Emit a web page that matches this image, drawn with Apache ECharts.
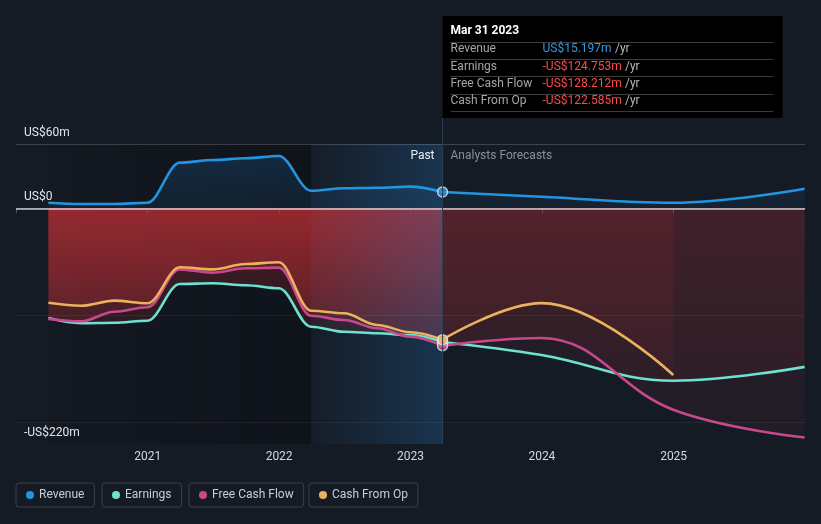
<!DOCTYPE html>
<html><head><meta charset="utf-8">
<script src="https://cdn.jsdelivr.net/npm/echarts@6/dist/echarts.min.js"></script>
<style>html,body{margin:0;padding:0;background:#151b25;}#main{width:821px;height:524px;}</style>
</head><body><div id="main"></div>
<script>
// ---------- data ----------
const seriesNames = ['Revenue', 'Earnings', 'Free Cash Flow', 'Cash From Op'];
const pastDates = ['2020-03-31','2020-06-30','2020-09-30','2020-12-31','2021-03-31','2021-06-30','2021-09-30','2021-12-31','2022-03-31','2022-06-30','2022-09-30','2022-12-31','2023-03-31'];
const revenuePast  = [5.2, 4.0, 4.0, 5.2, 42.6, 45.0, 46.7, 48.8, 16.4, 18.7, 19.2, 20.2, 15.197];
const earningsPast = [-102.5, -107.3, -106.8, -104.9, -70.7, -70.0, -71.9, -74.7, -110.5, -115.2, -116.7, -118.3, -124.753];
const fcfPast      = [-103.3, -105.5, -96.5, -92.4, -57.0, -60.1, -56.0, -55.4, -100.3, -104.3, -112.0, -119.8, -128.212];
const cfoPast      = [-88.1, -90.9, -86.2, -88.7, -55.1, -57.0, -52.0, -50.4, -95.6, -98.0, -108.9, -115.7, -122.585];
const forecastDates    = ['2023-03-31','2023-12-31','2024-12-31','2025-12-31'];
const cfoForecastDates = ['2023-03-31','2023-12-31','2024-12-31'];
const revenueForecast  = [15.197, 10.8, 5.2, 18.3];
const earningsForecast = [-124.753, -137.0, -161.0, -148.0];
const fcfForecast      = [-128.212, -121.0, -188.0, -214.0];
const cfoForecast      = [-122.585, -88.5, -155.6];
const yLabelValues = [60, 0, -220];
const gridLineValues = [60, -100, -200];
const xYearLabels = [2021, 2022, 2023, 2024, 2025];
const xMinDate = '2020-01-01', xMaxDate = '2026-01-01';
const darkStartDate = '2020-03-31', highlightStartDate = '2022-03-31';
const tooltipDate = '2023-03-31', tooltipTitle = 'Mar 31 2023';
const pastLabel = 'Past', forecastLabel = 'Analysts Forecasts';

// ---------- styling ----------
const colors = ['#2394df', '#6de2d0', '#c9488d', '#ebb15d'];
const legendLefts = [16, 102, 189, 309];
const FONT = 'Roboto, "Noto Sans", sans-serif';
const parse = d => echarts.number.parseDate(d).getTime();
const pairs = (dates, vals) => vals.map((v, i) => [dates[i], v]);
function grad(rgb, aTop, aBot) {
  return {type: 'linear', x: 0, y: 0, x2: 0, y2: 1, colorStops: [
    {offset: 0, color: `rgba(${rgb},${aTop})`}, {offset: 1, color: `rgba(${rgb},${aBot})`}]};
}
const pastData = [revenuePast, earningsPast, fcfPast, cfoPast];
const fcData = [[forecastDates, revenueForecast], [forecastDates, earningsForecast], [forecastDates, fcfForecast], [cfoForecastDates, cfoForecast]];

const series = [];
// dark past region (under areas)
series.push({type: 'line', name: '_bg', data: [], silent: true, z: 0,
  markArea: {silent: true, z: 0, itemStyle: {color: {type: 'linear', x: 0, y: 0, x2: 1, y2: 0, colorStops: [
    {offset: 0, color: 'rgba(0,0,0,0.1)'}, {offset: 1, color: 'rgba(0,0,0,0.28)'}]}},
    data: [[{xAxis: darkStartDate}, {xAxis: highlightStartDate}]]}});
// areas
seriesNames.forEach((name, i) => {
  const pos = i === 0;
  const rgb = pos ? '33,150,243' : '226,52,58';
  series.push({type: 'line', name, data: pairs(pastDates, pastData[i]), smooth: 0.35, smoothMonotone: 'x',
    symbol: 'none', silent: true, z: 1, itemStyle: {color: colors[i]}, lineStyle: {width: 0, opacity: 0},
    areaStyle: {origin: 0, color: pos ? grad(rgb, 0.24, 0.12) : grad(rgb, 0.4, 0.14)}});
  series.push({type: 'line', name, data: pairs(fcData[i][0], fcData[i][1]), smooth: 0.4,
    symbol: 'none', silent: true, z: 1, itemStyle: {color: colors[i]}, lineStyle: {width: 0, opacity: 0},
    areaStyle: {origin: 0, color: pos ? grad(rgb, 0.13, 0.07) : grad(rgb, 0.16, 0.08)}});
});
// highlight last past year + grid lines
series.push({type: 'line', name: '_hl', data: [], silent: true, z: 2,
  markArea: {silent: true, z: 2, itemStyle: {color: {type: 'linear', x: 0, y: 0, x2: 1, y2: 0, colorStops: [
    {offset: 0, color: 'rgba(40,130,210,0.02)'}, {offset: 1, color: 'rgba(40,130,210,0.24)'}]}},
    data: [[{xAxis: highlightStartDate}, {xAxis: tooltipDate}]]},
  markLine: {silent: true, z: 3, symbol: 'none', label: {show: false}, animation: false,
    data: gridLineValues.map(v => ({yAxis: v, lineStyle: {color: v === 60 ? 'rgba(255,255,255,0.18)' : 'rgba(255,255,255,0.06)', width: 1, type: 'solid'}}))
      .concat([{yAxis: 0, lineStyle: {color: 'rgba(235,235,235,0.8)', width: 1.5, type: 'solid'}}])}});
// lines
seriesNames.forEach((name, i) => {
  series.push({type: 'line', name, data: pairs(pastDates, pastData[i]), smooth: 0.35, smoothMonotone: 'x',
    symbol: 'none', z: 4, itemStyle: {color: colors[i]}, lineStyle: {width: 2.6, color: colors[i]}});
  series.push({type: 'line', name, data: pairs(fcData[i][0], fcData[i][1]), smooth: 0.4,
    symbol: 'none', z: 4, itemStyle: {color: colors[i]}, lineStyle: {width: 2.6, color: colors[i]}});
});
// dots at tooltip date
const dotOrder = [1, 0, 2, 3];
series.push({type: 'scatter', name: '_dots', z: 5, symbolSize: 10, silent: true,
  data: dotOrder.map(i => ({value: [tooltipDate, pastData[i][pastData[i].length - 1]],
    itemStyle: {color: colors[i], borderColor: '#e8e8e8', borderWidth: 1.5}}))});

const chart = echarts.init(document.getElementById('main'), null, {renderer: 'canvas'});
const fmtAxis = v => v === 0 ? 'US$0' : (v < 0 ? '-' : '') + 'US$' + Math.abs(v) + 'm';
chart.setOption({
  animation: false,
  backgroundColor: '#151b25',
  grid: {left: 16, right: 16, top: 144, bottom: 80, containLabel: false},
  legend: seriesNames.map((n, i) => ({data: [n], left: legendLefts[i], top: 483, icon: 'circle',
    itemWidth: 8, itemHeight: 8, itemGap: 0, padding: [6, 10, 6, 10], borderColor: '#3a404a', borderWidth: 1,
    borderRadius: 3, selectedMode: false, textStyle: {color: '#c9cdd3', fontSize: 12, fontFamily: FONT}})),
  xAxis: {type: 'time', min: parse(xMinDate), max: parse(xMaxDate), minInterval: 365 * 86400000, splitNumber: 6,
    axisLine: {lineStyle: {color: '#4b5059', width: 1}}, axisTick: {show: true, length: 5, lineStyle: {color: '#4b5059'}},
    splitLine: {show: false},
    axisLabel: {color: '#d6d8db', fontSize: 12, fontFamily: FONT, margin: 7, showMinLabel: false, showMaxLabel: false,
      formatter: v => { const d = new Date(v); return (xYearLabels.includes(d.getFullYear()) && d.getMonth() === 0) ? String(d.getFullYear()) : ''; }}},
  yAxis: {type: 'value', min: -220, max: 60, interval: 20, splitLine: {show: false}, axisLine: {show: false}, axisTick: {show: false},
    axisLabel: {inside: true, margin: 8, verticalAlign: 'bottom', padding: [0, 0, 5, 0], color: '#e3e5e8', fontSize: 12, fontFamily: FONT,
      showMinLabel: true, showMaxLabel: true, formatter: v => yLabelValues.includes(v) ? fmtAxis(v) : ''}},
  series
});

// ---------- tooltip-like annotation ----------
const px = chart.convertToPixel({xAxisIndex: 0}, parse(tooltipDate));
const yBottom = chart.convertToPixel({yAxisIndex: 0}, -220);
const yTop = chart.convertToPixel({yAxisIndex: 0}, 60);
const fmtVal = v => (v < 0 ? '-' : '') + 'US$' + Math.abs(v).toFixed(3) + 'm';
const boxTop = 16, boxH = 102, boxW = 340;
const g = [];
g.push({type: 'line', z: 50, shape: {x1: px, y1: boxTop + boxH, x2: px, y2: yBottom}, style: {stroke: '#2b3f53', lineWidth: 1}});
g.push({type: 'rect', z: 60, shape: {x: px, y: boxTop, width: boxW, height: boxH}, style: {fill: '#000'}});
g.push({type: 'text', z: 61, x: px + 8, y: 31, style: {text: tooltipTitle, fill: '#fff', font: 'bold 12px ' + FONT, verticalAlign: 'middle'}});
for (let r = 0; r < 5; r++) {
  const ly = Math.round(41.7 + r * 17.3) + 0.5;
  g.push({type: 'line', z: 61, shape: {x1: px + 8, y1: ly, x2: px + 331, y2: ly}, style: {stroke: '#3c3c3c', lineWidth: 1}});
}
seriesNames.forEach((n, i) => {
  const ry = 49.3 + i * 17.3;
  const v = pastData[i][pastData[i].length - 1];
  g.push({type: 'text', z: 61, x: px + 8, y: ry, style: {text: n, fill: '#a3a6aa', font: '12px ' + FONT, verticalAlign: 'middle'}});
  g.push({type: 'text', z: 61, x: px + 100, y: ry, style: {text: '{v|' + fmtVal(v) + '} {u|/yr}', verticalAlign: 'middle',
    rich: {v: {fill: v < 0 ? '#ff4a4a' : '#2f9be6', font: '12px ' + FONT}, u: {fill: '#b5b8bc', font: '12px ' + FONT}}}});
});
g.push({type: 'text', z: 61, x: px - 8, y: yTop + 12, style: {text: pastLabel, fill: '#eceef0', font: '12px ' + FONT, align: 'right', verticalAlign: 'middle'}});
g.push({type: 'text', z: 61, x: px + 8, y: yTop + 12, style: {text: forecastLabel, fill: '#8a9097', font: '12px ' + FONT, align: 'left', verticalAlign: 'middle'}});
chart.setOption({graphic: {elements: g}});
</script></body></html>
